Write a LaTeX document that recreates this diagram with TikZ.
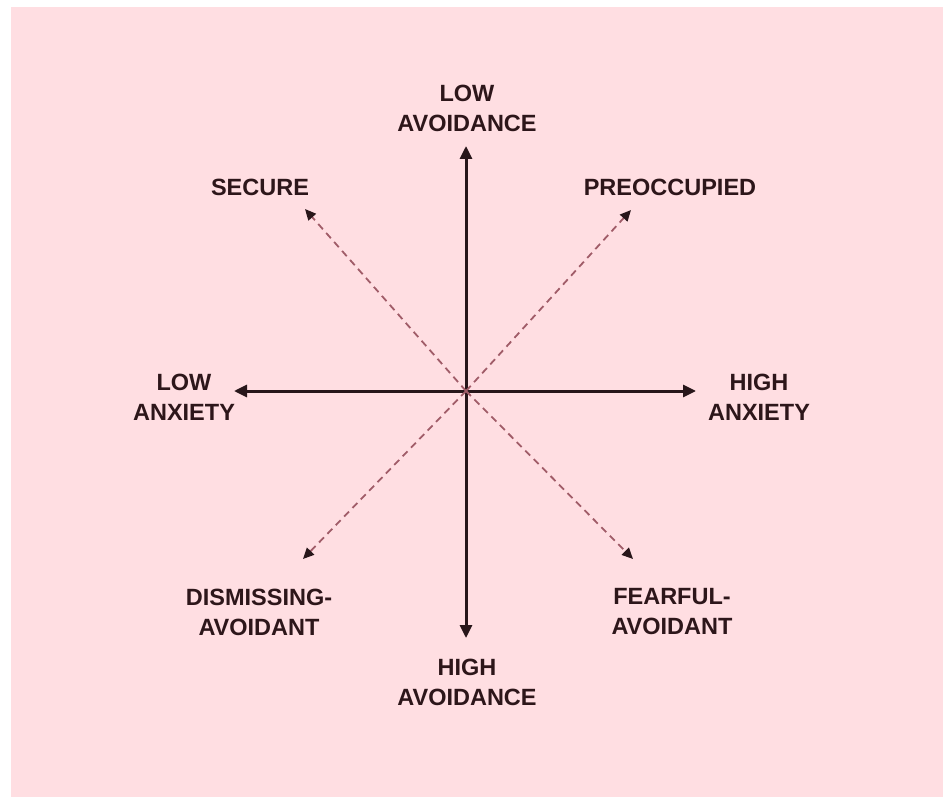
\documentclass[tikz,border=0pt]{standalone}
\usepackage{fontspec}
\setmainfont{Liberation Sans}
\usetikzlibrary{arrows.meta}
\definecolor{bgpink}{RGB}{255,222,226}
\definecolor{axiscol}{RGB}{40,22,26}
\definecolor{dashcol}{RGB}{160,92,104}
\definecolor{txtcol}{RGB}{45,22,26}
\begin{document}
\begin{tikzpicture}[x=1pt,y=-1pt,
  lbl/.style={font=\bfseries\fontsize{23.5}{30}\selectfont, text=txtcol, align=center, inner sep=0pt},
  axis/.style={draw=axiscol, line width=3pt, -{Triangle[length=13pt,width=12pt]}},
  diag/.style={draw=dashcol, line width=1.8pt, dash pattern=on 7pt off 5pt, -{Triangle[length=11pt,width=10pt,color=axiscol]}}]
\useasboundingbox (0,0) rectangle (943,797);
\fill[white] (0,0) rectangle (943,797);
\fill[bgpink] (11,7) rectangle (943,797);
\coordinate (o) at (466,391);
\coordinate (top) at (466,146);
\coordinate (bot) at (466,638);
\coordinate (lft) at (234,391);
\coordinate (rgt) at (696,391);
\coordinate (nw) at (305,209);
\coordinate (ne) at (631,210);
\coordinate (sw) at (303,559);
\coordinate (se) at (633,559);
\draw[axis] (o) -- (top);
\draw[axis] (o) -- (bot);
\draw[axis] (o) -- (lft);
\draw[axis] (o) -- (rgt);
\draw[diag] (o) -- (nw);
\draw[diag] (o) -- (ne);
\draw[diag] (o) -- (sw);
\draw[diag] (o) -- (se);
\node[lbl] (lowav) at (467,108) {LOW\\AVOIDANCE};
\node[lbl] (highav) at (467,682) {HIGH\\AVOIDANCE};
\node[lbl] (lowanx) at (184,397) {LOW\\ANXIETY};
\node[lbl] (highanx) at (759,397) {HIGH\\ANXIETY};
\node[lbl] (secure) at (260,187) {SECURE};
\node[lbl] (preocc) at (670,187) {PREOCCUPIED};
\node[lbl] (dismiss) at (259,612) {DISMISSING-\\AVOIDANT};
\node[lbl] (fearful) at (672,612) {FEARFUL-\\AVOIDANT};
\end{tikzpicture}
\end{document}
